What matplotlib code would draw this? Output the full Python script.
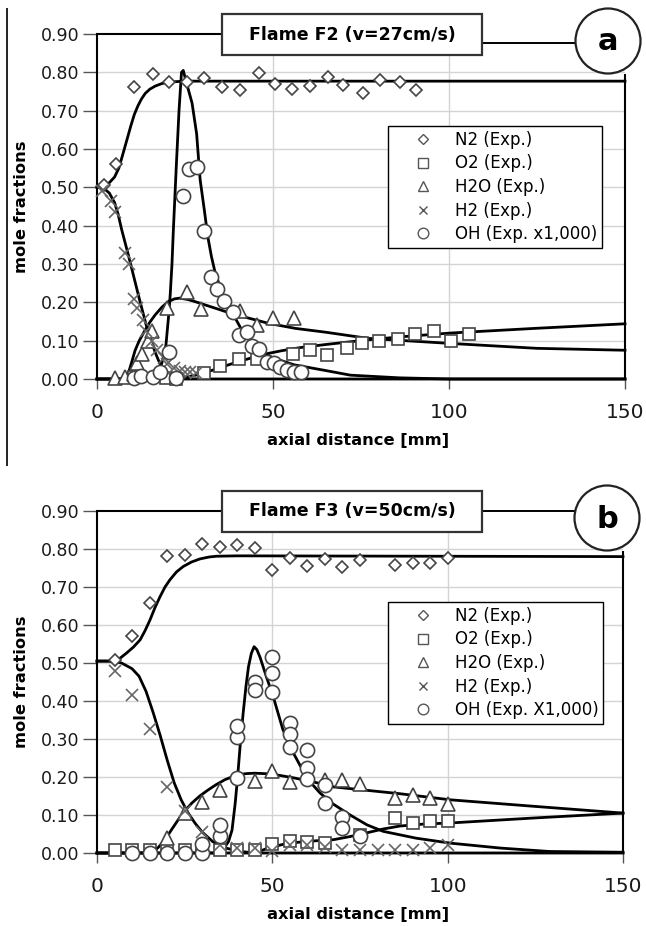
import numpy as np
import matplotlib
matplotlib.use('Agg')
import matplotlib.pyplot as plt
from matplotlib.patches import Rectangle, Ellipse
from matplotlib.lines import Line2D

plt.rcParams['font.family'] = ['DejaVu Sans']

# ---------------- data : panel a (Flame F2) ----------------
a_n2_x = [2, 5.5, 10.5, 16, 20.5, 25.5, 30.5, 35.5, 40.5, 46, 50.5, 55.5, 60.5, 65.5, 70, 75.5, 80.5, 86, 90.5]
a_n2_y = [0.505, 0.56, 0.762, 0.796, 0.774, 0.776, 0.784, 0.762, 0.755, 0.798, 0.77, 0.756, 0.765, 0.788, 0.768, 0.745, 0.779, 0.776, 0.753]
a_o2_x = [10.5, 19.5, 22.5, 30.3, 35, 40.4, 45.4, 55.8, 60.6, 65.4, 70.9, 75.4, 80, 85.4, 90.4, 95.6, 100.6, 105.8]
a_o2_y = [0.005, 0.002, 0.001, 0.015, 0.034, 0.053, 0.053, 0.065, 0.076, 0.063, 0.08, 0.093, 0.1, 0.104, 0.117, 0.124, 0.1, 0.117]
a_h2o_x = [5, 8, 10.5, 11.3, 12.7, 14.5, 15.6, 20, 25.5, 29.5, 40.5, 45.5, 50, 56]
a_h2o_y = [0.003, 0.006, 0.012, 0.041, 0.066, 0.098, 0.125, 0.185, 0.228, 0.183, 0.177, 0.14, 0.16, 0.16]
a_h2_x = [1.5, 4, 5, 8, 9, 10.5, 11.5, 13, 14, 15.5, 17, 19, 20, 22, 23.5, 25, 26.5, 28]
a_h2_y = [0.49, 0.465, 0.435, 0.33, 0.30, 0.21, 0.185, 0.155, 0.125, 0.10, 0.075, 0.055, 0.04, 0.028, 0.022, 0.018, 0.018, 0.015]
a_oh_x = [10.5, 12.5, 16, 18, 20.5, 22.5, 24.5, 26, 28.5, 30.3, 32.5, 34, 36, 38.5, 40.3, 42.5, 44, 46, 48.3, 50.2, 52, 54, 56, 58]
a_oh_y = [0.003, 0.008, 0.006, 0.019, 0.071, 0.002, 0.478, 0.547, 0.554, 0.387, 0.267, 0.234, 0.204, 0.176, 0.115, 0.122, 0.085, 0.077, 0.045, 0.041, 0.032, 0.023, 0.019, 0.017]

a_mn2_x = [0, 2, 3.5, 5, 6.2, 7.3, 8.5, 9.6, 10.6, 11.6, 12.6, 13.7, 15, 16.5, 18.5, 21, 25, 150]
a_mn2_y = [0.50, 0.505, 0.512, 0.527, 0.55, 0.585, 0.624, 0.66, 0.69, 0.712, 0.73, 0.745, 0.756, 0.764, 0.771, 0.775, 0.777, 0.777]
a_mo2_x = [0, 21, 24.5, 28, 32.5, 37.4, 41.2, 45, 48.8, 52.6, 57.8, 65, 76.8, 86.3, 100.6, 124.3, 150]
a_mo2_y = [0, 0, 0.004, 0.01, 0.022, 0.037, 0.048, 0.058, 0.067, 0.074, 0.082, 0.09, 0.102, 0.11, 0.12, 0.132, 0.144]
a_mh2o_x = [0, 8, 9, 9.9, 10.8, 12, 13.7, 15, 16.5, 18.5, 20.3, 22, 23.5, 26, 28.5, 30.8, 33.5, 36.5, 42.2, 48.8, 56.4, 65, 77, 100, 125, 150]
a_mh2o_y = [0, 0, 0.018, 0.045, 0.074, 0.1, 0.128, 0.148, 0.167, 0.188, 0.202, 0.209, 0.211, 0.207, 0.2, 0.193, 0.185, 0.176, 0.161, 0.145, 0.132, 0.122, 0.106, 0.093, 0.08, 0.075]
a_mh2_x = [0, 2, 3.5, 5, 6, 7, 8, 9, 10.5, 12, 13, 14, 15.2, 16.5, 17.5, 18.5, 19.7, 21, 23, 25, 150]
a_mh2_y = [0.50, 0.497, 0.485, 0.46, 0.43, 0.39, 0.355, 0.32, 0.265, 0.21, 0.175, 0.14, 0.105, 0.07, 0.048, 0.03, 0.016, 0.006, 0.001, 0, 0]
a_moh_x = [0, 15.5, 16.5, 17.5, 18.3, 19, 19.6, 20, 20.4, 20.8, 21.3, 21.7, 22.5, 23.3, 24, 24.5, 25.5, 27, 28.3, 29.3, 30.5, 31.5, 32.5, 33.5, 35.5, 38, 41, 45, 50, 56, 65, 72, 86, 100, 150]
a_moh_y = [0, 0, 0.006, 0.02, 0.038, 0.06, 0.09, 0.13, 0.17, 0.22, 0.3, 0.39, 0.55, 0.70, 0.80, 0.805, 0.77, 0.72, 0.64, 0.52, 0.44, 0.37, 0.32, 0.28, 0.225, 0.18, 0.13, 0.08, 0.055, 0.037, 0.022, 0.01, 0.003, 0, 0]

# ---------------- data : panel b (Flame F3) ----------------
b_n2_x = [5, 10, 15, 20, 25, 30, 35, 40, 45, 50, 55, 60, 65, 70, 75, 85, 90, 95, 100]
b_n2_y = [0.508, 0.57, 0.657, 0.782, 0.784, 0.812, 0.806, 0.81, 0.802, 0.745, 0.776, 0.755, 0.773, 0.752, 0.77, 0.758, 0.764, 0.762, 0.776]
b_o2_x = [5, 10, 15, 20, 25, 30, 35, 40, 45, 50, 55, 60, 65, 75, 85, 90, 95, 100]
b_o2_y = [0.009, 0.009, 0.009, 0.009, 0.009, 0.009, 0.009, 0.007, 0.009, 0.024, 0.031, 0.028, 0.026, 0.048, 0.092, 0.08, 0.083, 0.083]
b_h2o_x = [20, 25, 30, 35, 45, 50, 55, 65, 70, 75, 85, 90, 95, 100]
b_h2o_y = [0.04, 0.105, 0.135, 0.165, 0.19, 0.215, 0.188, 0.193, 0.193, 0.182, 0.146, 0.153, 0.145, 0.13]
b_h2_x = [5, 10, 15, 20, 25, 30, 35, 40, 45, 50, 55, 60, 65, 70, 75, 80, 85, 90, 95, 100]
b_h2_y = [0.478, 0.416, 0.326, 0.175, 0.11, 0.055, 0.02, 0.013, 0.013, 0.004, 0.022, 0.022, 0.017, 0.009, 0.008, 0.008, 0.008, 0.008, 0.013, 0.022]
b_oh_x = [10, 15, 20, 25, 30, 30, 35, 35, 40, 40, 40, 45, 45, 50, 50, 50, 55, 55, 55, 60, 60, 60, 65, 65, 70, 70, 75]
b_oh_y = [0.0, 0.0, 0.0, 0.0, 0.0, 0.025, 0.045, 0.073, 0.197, 0.306, 0.333, 0.451, 0.429, 0.517, 0.473, 0.425, 0.342, 0.314, 0.28, 0.272, 0.224, 0.195, 0.178, 0.131, 0.096, 0.066, 0.045]

b_mn2_x = [0, 4.6, 6.5, 8.4, 10.4, 12.3, 13.7, 15.1, 16.5, 18, 19.4, 20.8, 22.7, 24.6, 27, 29.4, 32, 34.1, 40, 150]
b_mn2_y = [0.505, 0.505, 0.512, 0.526, 0.542, 0.561, 0.585, 0.613, 0.645, 0.675, 0.7, 0.719, 0.74, 0.754, 0.766, 0.774, 0.779, 0.781, 0.782, 0.780]
b_mo2_x = [0, 45, 48.8, 54.5, 62.2, 67.4, 72, 76.9, 81.5, 86.4, 93, 100.7, 124.4, 150]
b_mo2_y = [0, 0, 0.013, 0.026, 0.032, 0.035, 0.043, 0.053, 0.063, 0.071, 0.076, 0.079, 0.092, 0.105]
b_mh2o_x = [0, 15.6, 17.5, 19.4, 21.3, 23.2, 25, 27, 29.3, 31.7, 34, 36.5, 38.4, 40.3, 42.7, 45, 49.8, 56.5, 62.2, 67.4, 86.4, 100.7, 124.4, 150]
b_mh2o_y = [0, 0, 0.015, 0.035, 0.062, 0.088, 0.11, 0.131, 0.15, 0.166, 0.18, 0.193, 0.2, 0.206, 0.209, 0.21, 0.208, 0.197, 0.186, 0.174, 0.156, 0.14, 0.123, 0.105]
b_mh2_x = [0, 4.5, 7, 10, 12, 14, 16, 18, 20, 22, 24, 26, 28, 30, 33, 36, 40, 45, 150]
b_mh2_y = [0.505, 0.505, 0.50, 0.485, 0.465, 0.425, 0.37, 0.31, 0.245, 0.185, 0.14, 0.105, 0.078, 0.055, 0.03, 0.015, 0.005, 0, 0]
b_moh_x = [0, 34, 36, 37.5, 38.5, 39.4, 40.1, 40.8, 41.7, 42.5, 43.2, 44, 44.8, 45.6, 46.5, 48.3, 50.3, 53, 56, 60, 63.6, 67, 72, 77, 81.6, 91, 100.7, 115, 129, 150]
b_moh_y = [0, 0, 0.01, 0.03, 0.06, 0.13, 0.20, 0.28, 0.37, 0.44, 0.49, 0.525, 0.543, 0.535, 0.515, 0.464, 0.41, 0.325, 0.263, 0.195, 0.158, 0.131, 0.101, 0.074, 0.057, 0.039, 0.026, 0.013, 0.004, 0.002]

x_ticks = [0, 50, 100, 150]
y_ticks = [0.0, 0.1, 0.2, 0.3, 0.4, 0.5, 0.6, 0.7, 0.8, 0.9]
x_grid = [50, 100]
y_grid = [0.1, 0.2, 0.3, 0.4, 0.5, 0.6, 0.7, 0.8]

# ---------------- figure ----------------
W, H = 646, 926
fig = plt.figure(figsize=(W / 100, H / 100), dpi=100)


def fx(x):
    return x / W


def fy(y):
    return 1 - y / H


def fline(x0, y0, x1, y1, lw=1.4, color='black'):
    fig.add_artist(Line2D([fx(x0), fx(x1)], [fy(y0), fy(y1)], transform=fig.transFigure,
                          color=color, lw=lw, zorder=6, solid_capstyle='butt'))


MEC = '#444444'
mk = dict(ls='none', mfc='white', mec=MEC, mew=1.2, clip_on=False, zorder=4)


def panel(L, T, R, B, exp, models, title, letter, oh_label, circ, conn_y, legend_top):
    ax = fig.add_axes([fx(L), fy(B), (R - L) / W, (B - T) / H])
    ax.set_xlim(0, 150)
    ax.set_ylim(0, 0.9)
    for g in y_grid:
        ax.axhline(g, color='#d4d4d4', lw=1.0, zorder=0)
    for g in x_grid:
        ax.axvline(g, color='#d4d4d4', lw=1.0, zorder=0)
    for s in ['top', 'right']:
        ax.spines[s].set_visible(False)
    for s in ['left', 'bottom']:
        ax.spines[s].set_linewidth(1.5)
        ax.spines[s].set_color('black')
    ax.set_xticks(x_ticks)
    ax.set_yticks(y_ticks)
    ax.set_yticklabels(['%.2f' % v for v in y_ticks])
    ax.tick_params(axis='y', direction='out', length=10, width=1.0, color='#555555',
                   pad=2.5, labelsize=12.5, labelcolor='#1a1a1a')
    ax.tick_params(axis='x', direction='out', length=7, width=1.0, color='#555555',
                   pad=10, labelsize=14.5, labelcolor='#1a1a1a')

    (n2x, n2y), (o2x, o2y), (h2ox, h2oy), (h2x, h2y), (ohx, ohy) = exp
    for (mx, my) in models:
        ax.plot(mx, my, color='black', lw=2.0, clip_on=False, zorder=3,
                solid_joinstyle='round')
    h1, = ax.plot(n2x, n2y, marker='D', ms=6.5, **mk)
    h2, = ax.plot(o2x, o2y, marker='s', ms=8.8, **mk)
    h3, = ax.plot(h2ox, h2oy, marker='^', ms=9.5, **mk)
    h4, = ax.plot(h2x, h2y, marker='x', ms=8.5, **{**mk, 'mec': '#666666'})
    h5, = ax.plot(ohx, ohy, marker='o', ms=10.2, **mk)

    leg = ax.legend([h1, h2, h3, h4, h5],
                    ['N2 (Exp.)', 'O2 (Exp.)', 'H2O (Exp.)', 'H2 (Exp.)', oh_label],
                    loc='upper left', bbox_to_anchor=(fx(388), fy(legend_top)),
                    bbox_transform=fig.transFigure, borderaxespad=0, fontsize=12,
                    frameon=True, fancybox=False, edgecolor='black', framealpha=1,
                    borderpad=0.3, labelspacing=0.33, handlelength=3.6,
                    handletextpad=0.1, markerscale=0.75)
    leg.get_frame().set_linewidth(1.0)
    leg.set_zorder(7)
    for hnd in leg.legend_handles:
        hnd.set_markeredgewidth(1.0)
        hnd.set_markeredgecolor('#555555')

    # frame decorations
    fline(L, T, 222, T, lw=1.5)
    fline(R, circ[1] + circ[2], R, B + 1, lw=1.5)
    fline(482, conn_y, circ[0] - circ[2], conn_y, lw=1.4)
    fig.add_artist(Rectangle((fx(222), fy(T + 21)), 260 / W, 41 / H, transform=fig.transFigure,
                             fc='white', ec='#333333', lw=1.6, zorder=6))
    fig.text(fx(352), fy(T + 0.5), title, ha='center', va='center', fontsize=12.5,
             fontweight='bold', zorder=8)
    cx, cy, r = circ
    fig.add_artist(Ellipse((fx(cx), fy(cy)), 2 * r / W, 2 * r / H, transform=fig.transFigure,
                           fc='white', ec='#222222', lw=1.6, zorder=6))
    fig.text(fx(cx), fy(cy + 1), letter, ha='center', va='center', fontsize=22,
             fontweight='bold', zorder=8)
    fig.text(fx(22), fy((T + B) / 2), 'mole fractions', rotation=90, ha='center', va='center',
             fontsize=11.7, fontweight='bold')
    fig.text(fx(358), fy(B + 61), 'axial distance [mm]', ha='center', va='center',
             fontsize=11.7, fontweight='bold')
    return ax


panel(97, 34, 625, 379,
      [(a_n2_x, a_n2_y), (a_o2_x, a_o2_y), (a_h2o_x, a_h2o_y), (a_h2_x, a_h2_y), (a_oh_x, a_oh_y)],
      [(a_mn2_x, a_mn2_y), (a_mo2_x, a_mo2_y), (a_mh2o_x, a_mh2o_y), (a_mh2_x, a_mh2_y), (a_moh_x, a_moh_y)],
      'Flame F2 (v=27cm/s)', 'a', 'OH (Exp. x1,000)', (608, 41, 32.5), 43, 126)

panel(97, 511, 623, 853,
      [(b_n2_x, b_n2_y), (b_o2_x, b_o2_y), (b_h2o_x, b_h2o_y), (b_h2_x, b_h2_y), (b_oh_x, b_oh_y)],
      [(b_mn2_x, b_mn2_y), (b_mo2_x, b_mo2_y), (b_mh2o_x, b_mh2o_y), (b_mh2_x, b_mh2_y), (b_moh_x, b_moh_y)],
      'Flame F3 (v=50cm/s)', 'b', 'OH (Exp. X1,000)', (607, 518, 32.5), 511, 602)

# page edge line at the left of panel a
fline(7, 8, 7, 466, lw=1.4, color='#222222')

fig.savefig('out.png', dpi=100)
